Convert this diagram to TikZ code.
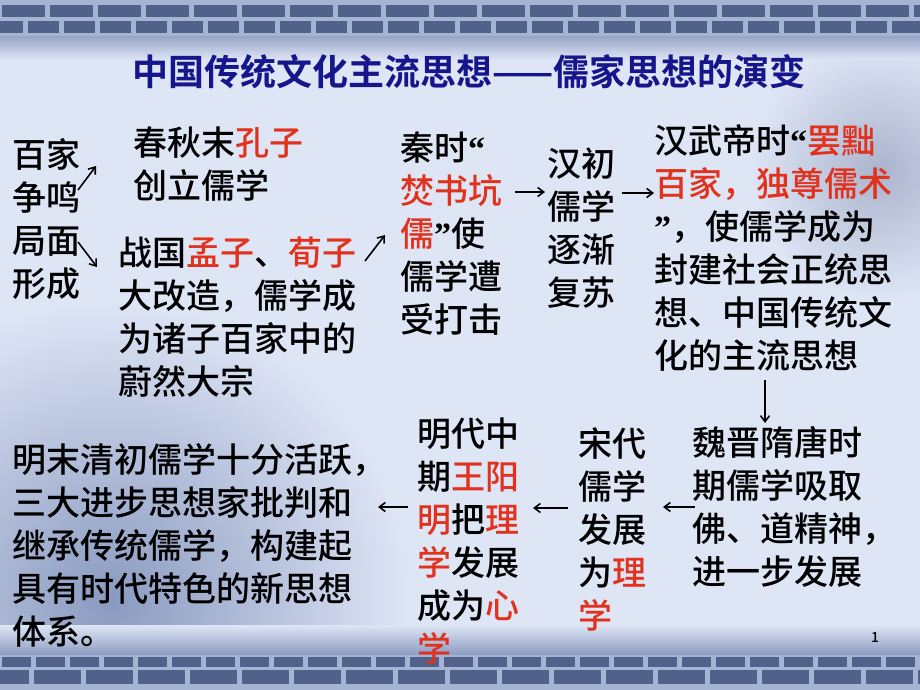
\documentclass[tikz,border=0pt]{standalone}
\usepackage{fontspec}
\newfontfamily\cjk{Noto Sans CJK SC Medium}
\newfontfamily\cjkb{Noto Sans CJK SC Bold}
\newfontfamily\aspas{Liberation Serif}
\usetikzlibrary{arrows.meta,positioning}
\definecolor{destaque}{RGB}{225,50,30}
\definecolor{azultitulo}{RGB}{22,22,140}
\definecolor{fundo}{RGB}{222,229,245}
\definecolor{tijolo}{RGB}{80,98,138}
\definecolor{argamassa}{RGB}{165,180,210}
\newcommand{\hl}[1]{\textcolor{destaque}{#1}}
\newcommand{\abre}{{\aspas\bfseries “}}
\newcommand{\fecha}{{\aspas\bfseries ”}}
\tikzset{
  etapa/.style={anchor=west, inner sep=0pt, align=left, font=\cjk\fontsize{34}{43}\selectfont},
  seta/.style={-{Straight Barb[length=6pt,width=9pt]}, line width=1.6pt},
}
\begin{document}
\begin{tikzpicture}[x=1pt, y=-1pt]
        \useasboundingbox (0,0) rectangle (920,690);
        % Fundo
        \fill[fundo] (0,0) rectangle (920,690);
        \shade[inner color={rgb,255:red,138;green,154;blue,192}, outer color=fundo] (110,600) circle (300);
        \shade[inner color={rgb,255:red,170;green,180;blue,205}, outer color=fundo] (880,170) circle (130);
        \shade[top color={rgb,255:red,150;green,166;blue,200}, bottom color=fundo] (0,36) rectangle (920,60);
        \shade[top color=fundo, bottom color={rgb,255:red,140;green,156;blue,192}] (0,625) rectangle (920,655);
        % Muro de tijolos
        \fill[argamassa] (0,0) rectangle (920,36);
        \foreach \x in {0,48,...,920} \fill[tijolo] (\x+2,5) rectangle (\x+45,17);
        \foreach \x in {-10,26,...,920} \fill[tijolo] (\x+2,21) rectangle (\x+33,33);
        \fill[argamassa] (0,655) rectangle (920,690);
        \foreach \x in {0,34,...,920} \fill[tijolo] (\x+2,657) rectangle (\x+31,667);
        \foreach \x in {-20,32,...,920} \fill[tijolo] (\x+2,670) rectangle (\x+49,684);
        % Titulo
        \node[font=\cjkb\fontsize{36}{36}\selectfont, text=azultitulo, inner sep=0pt] (titulo) at (469,72) {中国传统文化主流思想——儒家思想的演变};
        % Define os nos
        \node[etapa] (baijia) at (12,219) {百家\\争鸣\\局面\\形成};
        \node[etapa] (kongzi) at (133,164) {春秋末\hl{孔子}\\创立儒学};
        \node[etapa] (mengxun) at (118,317) {战国\hl{孟子}、\hl{荀子}\\大改造，儒学成\\为诸子百家中的\\蔚然大宗};
        \node[etapa] (qin) at (400,234) {秦时\abre\\\hl{焚书坑}\\\hl{儒}\fecha 使\\儒学遭\\受打击};
        \node[etapa] (hanchu) at (547,228) {汉初\\儒学\\逐渐\\复苏};
        \node[etapa] (hanwu) at (654,248) {汉武帝时\abre\hl{罢黜}\\\hl{百家，独尊儒术}\\\fecha，使儒学成为\\封建社会正统思\\想、中国传统文\\化的主流思想};
        \node[etapa] (weijin) at (692,507) {魏晋隋唐时\\期儒学吸取\\佛、道精神，\\进一步发展};
        \node[etapa] (song) at (578,529) {宋代\\儒学\\发展\\为\hl{理}\\\hl{学}};
        \node[etapa] (wangyangming) at (417,541) {明代中\\期\hl{王阳}\\\hl{明}把\hl{理}\\\hl{学}发展\\成为\hl{心}\\\hl{学}};
        \node[etapa] (mingqing) at (12,545) {明末清初儒学十分活跃，\\三大进步思想家批判和\\继承传统儒学，构建起\\具有时代特色的新思想\\体系。};
        \node[font=\cjk\fontsize{14}{14}\selectfont, inner sep=0pt] (pagina) at (875,637) {1};
        % Pontas das setas
        \coordinate (s1a) at (78,190);  \coordinate (s1b) at (96,166);
        \coordinate (s2a) at (78,242);  \coordinate (s2b) at (97,267);
        \coordinate (s3a) at (365,261); \coordinate (s3b) at (385,235);
        \coordinate (s4a) at (515,192); \coordinate (s4b) at (545,192);
        \coordinate (s5a) at (622,193); \coordinate (s5b) at (654,193);
        \coordinate (s6a) at (765,380); \coordinate (s6b) at (765,423);
        \coordinate (s7a) at (695,507); \coordinate (s7b) at (663,507);
        \coordinate (s8a) at (568,508); \coordinate (s8b) at (533,508);
        \coordinate (s9a) at (408,507); \coordinate (s9b) at (378,507);
        % Conecta as etapas
        \foreach \i in {1,...,9} \draw[seta] (s\i a) -- (s\i b);
    \end{tikzpicture}
\end{document}
